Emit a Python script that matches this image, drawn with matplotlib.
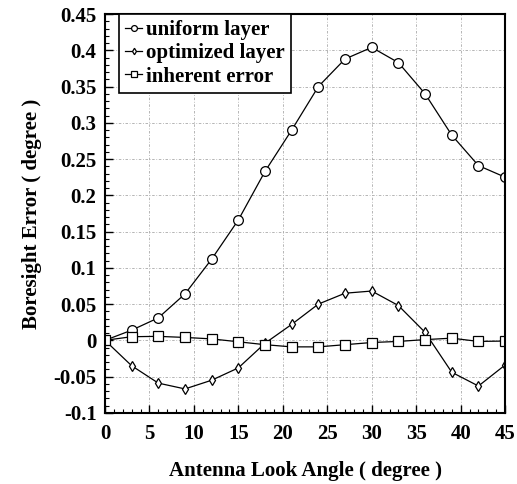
import matplotlib
matplotlib.use('Agg')
import matplotlib.pyplot as plt
from matplotlib.ticker import MultipleLocator

plt.rcParams['font.family'] = ['Liberation Serif', 'DejaVu Serif']
plt.rcParams['font.weight'] = 'bold'
plt.rcParams['axes.labelweight'] = 'bold'

angles = [0, 3, 6, 9, 12, 15, 18, 21, 24, 27, 30, 33, 36, 39, 42, 45]
uniform = [0.0, 0.014, 0.031, 0.064, 0.112, 0.166, 0.233, 0.290, 0.350, 0.388,
           0.404, 0.383, 0.340, 0.283, 0.241, 0.225]
optimized = [0.0, -0.035, -0.059, -0.067, -0.055, -0.038, -0.004, 0.022, 0.050,
             0.065, 0.068, 0.048, 0.011, -0.044, -0.063, -0.034]
inherent = [0.0, 0.005, 0.0055, 0.004, 0.002, -0.002, -0.006, -0.009, -0.009,
            -0.006, -0.003, -0.0015, 0.001, 0.003, -0.0015, -0.001]

fig = plt.figure(figsize=(5.17, 4.84), dpi=100)
ax = fig.add_axes([0.203, 0.147, 0.774, 0.824])

ax.plot(angles, uniform, color='black', lw=0.9, marker='o', ms=7,
        mfc='white', mec='black', mew=0.9, label='uniform layer')
ax.plot(angles, optimized, color='black', lw=0.9, marker='d', ms=5.5,
        mfc='white', mec='black', mew=0.9, label='optimized layer')
ax.plot(angles, inherent, color='black', lw=0.9, marker='s', ms=7,
        mfc='white', mec='black', mew=0.9, label='inherent error')

ax.set_xlim(0, 45)
ax.set_ylim(-0.1, 0.45)
ax.xaxis.set_major_locator(MultipleLocator(5))
ax.xaxis.set_minor_locator(MultipleLocator(1))
ax.yaxis.set_major_locator(MultipleLocator(0.05))
ax.yaxis.set_minor_locator(MultipleLocator(0.01))
ax.set_yticks([-0.1, -0.05, 0, 0.05, 0.1, 0.15, 0.2, 0.25, 0.3, 0.35, 0.4, 0.45])
ax.set_yticklabels(['-0.1', '-0.05', '0', '0.05', '0.1', '0.15', '0.2', '0.25',
                    '0.3', '0.35', '0.4', '0.45'])
ax.tick_params(which='both', direction='in', labelsize=15)
ax.tick_params(which='major', length=6, width=1)
ax.tick_params(which='minor', length=3, width=0.8)
ax.tick_params(axis='x', pad=8)
ax.tick_params(axis='y', pad=6)
ax.grid(True, which='major', color='#aaaaaa', ls=(0, (3, 2, 1, 2)), lw=0.6)

for s in ax.spines.values():
    s.set_linewidth(1.5)

ax.set_xlabel('Antenna Look Angle ( degree )', fontsize=15, labelpad=12)
ax.set_ylabel('Boresight Error ( degree )', fontsize=15, labelpad=8)

leg = ax.legend(loc='upper left', bbox_to_anchor=(0.035, 1.0), fontsize=15,
                frameon=True, fancybox=False,
                handlelength=0.8, handletextpad=0.2, borderpad=0.3,
                labelspacing=0.15, borderaxespad=0.0, markerscale=0.6)
leg.get_frame().set_edgecolor('black')
leg.get_frame().set_linewidth(1.2)
leg.get_frame().set_alpha(1)

fig.savefig('out.png', dpi=100)
